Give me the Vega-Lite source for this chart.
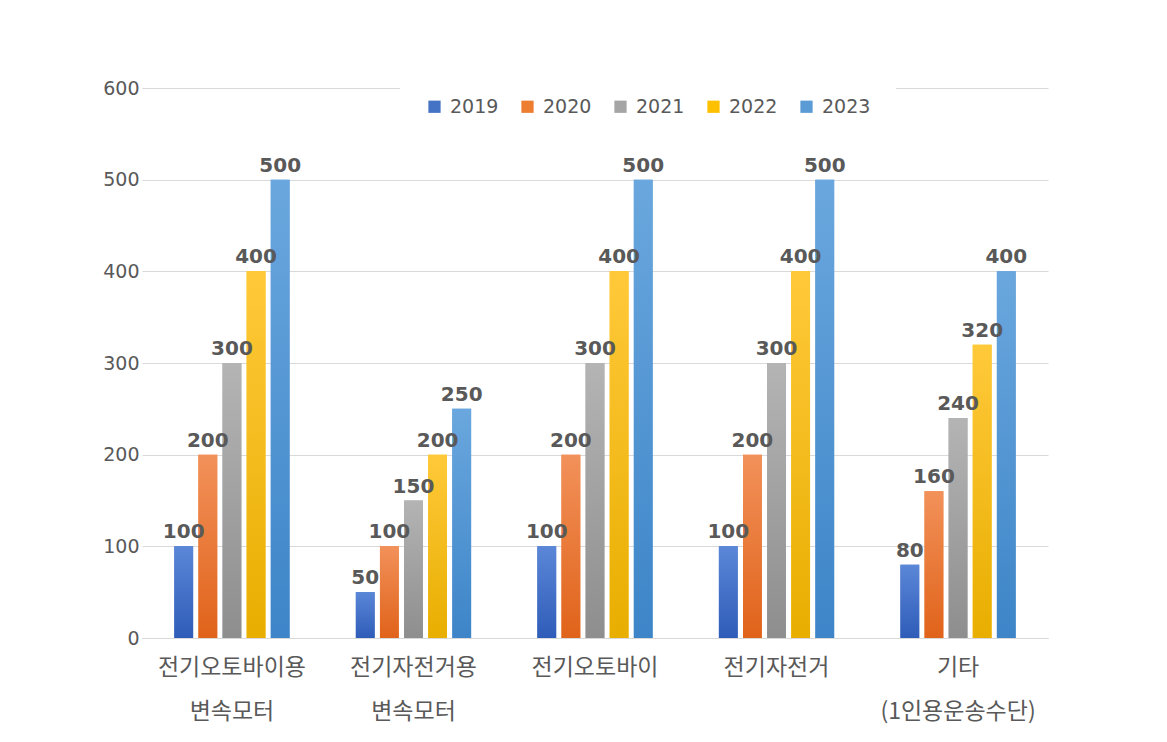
{
  "$schema": "https://vega.github.io/schema/vega-lite/v6.json",
  "autosize": {"type": "none"},
  "padding": {"left": 142, "top": 88, "right": 119, "bottom": 104},
  "width": 906,
  "height": 550,
  "background": "white",
  "config": {
    "font": "Noto Sans CJK KR",
    "view": {"stroke": null}
  },
  "data": {
    "values": [
      {"category": "전기오토바이용 변속모터", "year": "2019", "value": 100},
      {"category": "전기오토바이용 변속모터", "year": "2020", "value": 200},
      {"category": "전기오토바이용 변속모터", "year": "2021", "value": 300},
      {"category": "전기오토바이용 변속모터", "year": "2022", "value": 400},
      {"category": "전기오토바이용 변속모터", "year": "2023", "value": 500},
      {"category": "전기자전거용 변속모터", "year": "2019", "value": 50},
      {"category": "전기자전거용 변속모터", "year": "2020", "value": 100},
      {"category": "전기자전거용 변속모터", "year": "2021", "value": 150},
      {"category": "전기자전거용 변속모터", "year": "2022", "value": 200},
      {"category": "전기자전거용 변속모터", "year": "2023", "value": 250},
      {"category": "전기오토바이", "year": "2019", "value": 100},
      {"category": "전기오토바이", "year": "2020", "value": 200},
      {"category": "전기오토바이", "year": "2021", "value": 300},
      {"category": "전기오토바이", "year": "2022", "value": 400},
      {"category": "전기오토바이", "year": "2023", "value": 500},
      {"category": "전기자전거", "year": "2019", "value": 100},
      {"category": "전기자전거", "year": "2020", "value": 200},
      {"category": "전기자전거", "year": "2021", "value": 300},
      {"category": "전기자전거", "year": "2022", "value": 400},
      {"category": "전기자전거", "year": "2023", "value": 500},
      {"category": "기타 (1인용운송수단)", "year": "2019", "value": 80},
      {"category": "기타 (1인용운송수단)", "year": "2020", "value": 160},
      {"category": "기타 (1인용운송수단)", "year": "2021", "value": 240},
      {"category": "기타 (1인용운송수단)", "year": "2022", "value": 320},
      {"category": "기타 (1인용운송수단)", "year": "2023", "value": 400}
    ]
  },
  "encoding": {
    "x": {
      "field": "category",
      "type": "nominal",
      "sort": null,
      "scale": {"paddingInner": 0.365, "paddingOuter": 0.178},
      "axis": {
        "title": null,
        "labelAngle": 0,
        "labelExpr": "split(datum.label, ' ')",
        "labelFontSize": 23,
        "labelColor": "#595959",
        "labelLineHeight": 44,
        "labelPadding": 18,
        "labelBaseline": "top",
        "ticks": false,
        "domainColor": "#d9d9d9",
        "domainWidth": 1
      }
    },
    "xOffset": {
      "field": "year",
      "type": "nominal",
      "sort": ["2019", "2020", "2021", "2022", "2023"],
      "scale": {"domain": ["2019", "2020", "2021", "2022", "2023"], "paddingInner": 0.22, "paddingOuter": 0}
    },
    "y": {
      "field": "value",
      "type": "quantitative",
      "scale": {"domain": [0, 600], "nice": false},
      "axis": {
        "title": null,
        "values": [0, 100, 200, 300, 400, 500, 600],
        "labelFontSize": 19,
        "labelColor": "#595959",
        "labelPadding": 3,
        "labelFont": "DejaVu Sans",
        "domain": false,
        "ticks": false,
        "gridColor": "#d9d9d9",
        "gridWidth": 1
      }
    }
  },
  "layer": [
    {
      "mark": {"type": "bar"},
      "encoding": {
        "color": {
          "field": "year",
          "type": "nominal",
          "scale": {
            "domain": ["2019", "2020", "2021", "2022", "2023"],
            "range": ["#4472c4", "#ed7d31", "#a5a5a5", "#ffc000", "#5b9bd5"]
          },
          "legend": {
            "title": null,
            "orient": "none",
            "direction": "horizontal",
            "legendX": 258,
            "legendY": -16,
            "padding": 25,
            "fillColor": "white",
            "symbolType": "square",
            "symbolSize": 150,
            "symbolStrokeWidth": 0,
            "labelFontSize": 19,
            "labelFont": "DejaVu Sans",
            "labelColor": "#595959",
            "labelOffset": 6,
            "columnPadding": 19
          }
        }
      }
    },
    {
      "transform": [{"filter": "datum.year == '2019'"}],
      "mark": {"type": "bar", "color": {"gradient": "linear", "x1": 0, "y1": 0, "x2": 0, "y2": 1, "stops": [{"offset": 0, "color": "#5b87d8"}, {"offset": 1, "color": "#2f5cb8"}]}}
    },
    {
      "transform": [{"filter": "datum.year == '2020'"}],
      "mark": {"type": "bar", "color": {"gradient": "linear", "x1": 0, "y1": 0, "x2": 0, "y2": 1, "stops": [{"offset": 0, "color": "#f2915a"}, {"offset": 1, "color": "#e0631a"}]}}
    },
    {
      "transform": [{"filter": "datum.year == '2021'"}],
      "mark": {"type": "bar", "color": {"gradient": "linear", "x1": 0, "y1": 0, "x2": 0, "y2": 1, "stops": [{"offset": 0, "color": "#b4b4b4"}, {"offset": 1, "color": "#8e8e8e"}]}}
    },
    {
      "transform": [{"filter": "datum.year == '2022'"}],
      "mark": {"type": "bar", "color": {"gradient": "linear", "x1": 0, "y1": 0, "x2": 0, "y2": 1, "stops": [{"offset": 0, "color": "#ffc93a"}, {"offset": 1, "color": "#e8ae00"}]}}
    },
    {
      "transform": [{"filter": "datum.year == '2023'"}],
      "mark": {"type": "bar", "color": {"gradient": "linear", "x1": 0, "y1": 0, "x2": 0, "y2": 1, "stops": [{"offset": 0, "color": "#6aa7de"}, {"offset": 1, "color": "#3d85c8"}]}}
    },
    {
      "mark": {"type": "text", "baseline": "alphabetic", "dy": -8, "fontSize": 20, "fontWeight": "bold", "font": "DejaVu Sans", "color": "#595959"},
      "encoding": {
        "text": {"field": "value", "type": "quantitative"}
      }
    }
  ]
}
